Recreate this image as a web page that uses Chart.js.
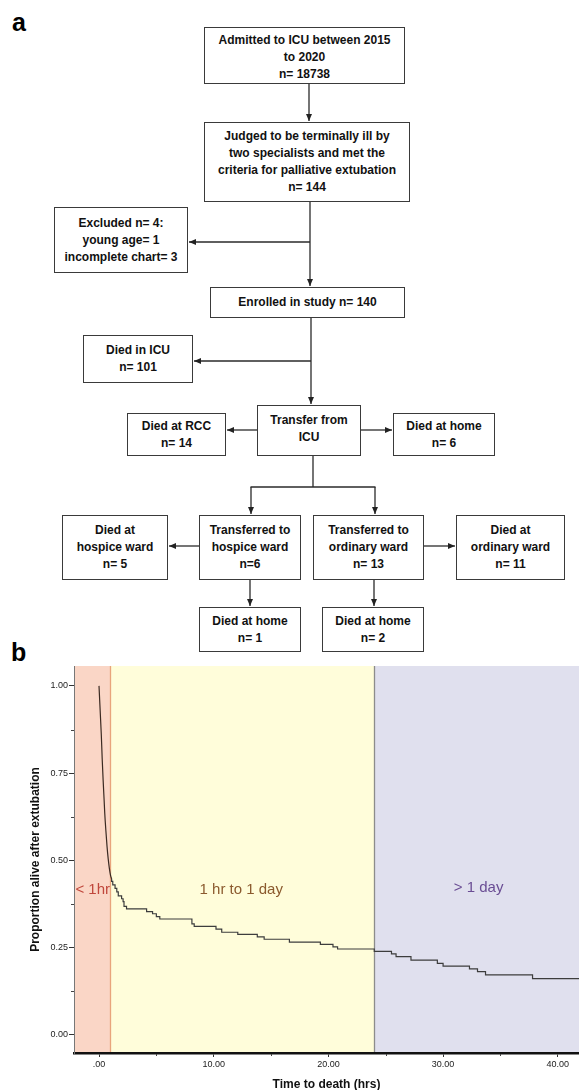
<!DOCTYPE html>
<html>
<head>
<meta charset="utf-8">
<script src="https://cdn.jsdelivr.net/npm/chart.js@4.4.1/dist/chart.umd.min.js"></script>
<style>
  html, body { margin:0; padding:0; background:#fff; }
  #page { position:relative; width:579px; height:1090px; overflow:hidden; background:#fff; }
  .panel { position:absolute; font-family:"Liberation Sans", Arial, sans-serif; font-weight:bold; font-size:25px; line-height:1; }
  .box { position:absolute; box-sizing:border-box; border:1.5px solid #3a3a3a; background:#fff;
         display:flex; align-items:center; justify-content:center; text-align:center;
         font-family:"Liberation Sans", Arial, sans-serif; font-weight:bold;
         font-size:12px; line-height:17px; color:#111; }
  svg { position:absolute; left:0; top:0; }
  #chartWrap { position:absolute; left:0; top:640px; width:579px; height:452px; }
</style>
</head>
<body>
<div id="page">
  <div class="panel" style="left:12px;top:10px;">a</div>
  <div class="panel" style="left:11px;top:640px;">b</div>

  <svg width="579" height="660" viewBox="0 0 579 660">
    <defs>
      <marker id="ah" markerWidth="8" markerHeight="8" refX="7" refY="4" orient="auto" markerUnits="userSpaceOnUse">
        <path d="M0,1 L7,4 L0,7 Z" fill="#222"/>
      </marker>
    </defs>
    <g stroke="#2a2a2a" stroke-width="1.3" fill="none">
      <line x1="309" y1="84" x2="309" y2="121" marker-end="url(#ah)"/>
      <line x1="310" y1="202" x2="310" y2="286" marker-end="url(#ah)"/>
      <line x1="310" y1="242" x2="189" y2="242" marker-end="url(#ah)"/>
      <line x1="311" y1="318" x2="311" y2="404" marker-end="url(#ah)"/>
      <line x1="311" y1="361" x2="194" y2="361" marker-end="url(#ah)"/>
      <line x1="257" y1="430" x2="227" y2="430" marker-end="url(#ah)"/>
      <line x1="361" y1="430" x2="392" y2="430" marker-end="url(#ah)"/>
      <line x1="313" y1="456" x2="313" y2="487"/>
      <line x1="250.5" y1="487" x2="375.5" y2="487"/>
      <line x1="251" y1="487" x2="251" y2="514" marker-end="url(#ah)"/>
      <line x1="375" y1="487" x2="375" y2="514" marker-end="url(#ah)"/>
      <line x1="199" y1="546" x2="169" y2="546" marker-end="url(#ah)"/>
      <line x1="424" y1="546" x2="455" y2="546" marker-end="url(#ah)"/>
      <line x1="250" y1="580" x2="250" y2="606" marker-end="url(#ah)"/>
      <line x1="374" y1="580" x2="374" y2="606" marker-end="url(#ah)"/>
    </g>
  </svg>

  <div class="box" style="left:204px;top:27px;width:201px;height:57px;padding-top:3px;">Admitted to ICU between 2015<br>to 2020<br>n= 18738</div>
  <div class="box" style="left:204px;top:122px;width:206px;height:80px;">Judged to be terminally ill by<br>two specialists and met the<br>criteria for palliative extubation<br>n= 144</div>
  <div class="box" style="left:54px;top:207px;width:134px;height:66px;">Excluded n= 4:<br>young age= 1<br>incomplete chart= 3</div>
  <div class="box" style="left:210px;top:287px;width:195px;height:31px;">Enrolled in study n= 140</div>
  <div class="box" style="left:83px;top:335px;width:110px;height:48px;">Died in ICU<br>n= 101</div>
  <div class="box" style="left:257px;top:405px;width:104px;height:51px;padding-bottom:4px;">Transfer from<br>ICU</div>
  <div class="box" style="left:127px;top:413px;width:99px;height:43px;">Died at RCC<br>n= 14</div>
  <div class="box" style="left:393px;top:413px;width:102px;height:43px;">Died at home<br>n= 6</div>
  <div class="box" style="left:62px;top:515px;width:106px;height:65px;">Died at<br>hospice ward<br>n= 5</div>
  <div class="box" style="left:199px;top:515px;width:102px;height:65px;">Transferred to<br>hospice ward<br>n=6</div>
  <div class="box" style="left:313px;top:515px;width:111px;height:65px;">Transferred to<br>ordinary ward<br>n= 13</div>
  <div class="box" style="left:456px;top:515px;width:109px;height:65px;">Died at<br>ordinary ward<br>n= 11</div>
  <div class="box" style="left:199px;top:607px;width:102px;height:45px;">Died at home<br>n= 1</div>
  <div class="box" style="left:322px;top:607px;width:102px;height:45px;">Died at home<br>n= 2</div>

  <div id="chartWrap"><canvas id="km" width="579" height="452"></canvas></div>
</div>

<script>
// ---------- DATA ----------
// Early phase (< ~1 hr): many deaths, drawn as a continuous curve
const earlyTime = [0, 0.1, 0.2, 0.28, 0.36, 0.45, 0.5, 0.6, 0.7, 0.8, 0.9, 1.0, 1.1];
const earlySurv = [1.0, 0.93, 0.86, 0.79, 0.73, 0.67, 0.636, 0.585, 0.54, 0.505, 0.478, 0.458, 0.447];

// Later phase: Kaplan-Meier steps
const stepTime = [1.1, 1.2, 1.4, 1.55, 1.68, 1.97, 2.1, 2.18, 2.4, 4.15, 4.67, 5.0, 5.3, 8.1, 8.3, 10.2, 10.7,
                  12.1, 13.8, 14.4, 16.6, 19.3, 20.4, 20.8, 24.0, 25.5, 25.9, 27.2, 29.5, 30.0, 32.3, 33.0, 33.7,
                  37.8, 39.3, 41.85];
const stepSurv = [0.447, 0.44, 0.43, 0.42, 0.41, 0.398, 0.39, 0.382, 0.368, 0.361, 0.353, 0.347, 0.339, 0.332, 0.318, 0.311, 0.303,
                  0.294, 0.288, 0.281, 0.274, 0.266, 0.259, 0.252, 0.246, 0.239, 0.232, 0.224, 0.214, 0.205, 0.197, 0.189, 0.181,
                  0.172, 0.161, 0.161];

// Axis ticks
const xTicks = [0, 10, 20, 30, 40];
const xTickLabels = ['.00', '10.00', '20.00', '30.00', '40.00'];
const xMinorTicks = [5, 15, 25, 35];
const yTicks = [0, 0.25, 0.5, 0.75, 1.0];
const yTickLabels = ['0.00', '0.25', '0.50', '0.75', '1.00'];
const yMinorTicks = [0.125, 0.375, 0.625, 0.875];

// Time bands (hours)
const bandEdges = [-2.18, 1, 24, 41.85];
const bandColors = ['#fad6c6', '#fffdda', '#e0e0ee'];
const bandLineColors = ['#e8a47c', '#8c8c8c'];
const bandLabels = ['< 1hr', '1 hr to 1 day', '> 1 day'];
const bandLabelX = [-0.55, 12.4, 33.1];
const bandLabelY = [0.415, 0.415, 0.421];
const bandLabelColors = ['#c0473c', '#8b5a2e', '#6a4d94'];

// ---------- CHART ----------
const xMin = -2.18, xMax = 41.85, yMin = -0.052, yMax = 1.057;

const bandsPlugin = {
  id: 'bands',
  beforeDraw(chart) {
    const {ctx, chartArea: a, scales: {x}} = chart;
    ctx.save();
    for (let i = 0; i < bandColors.length; i++) {
      const x0 = Math.max(a.left, x.getPixelForValue(bandEdges[i]));
      const x1 = Math.min(a.right, x.getPixelForValue(bandEdges[i + 1]));
      ctx.fillStyle = bandColors[i];
      ctx.fillRect(x0, a.top, x1 - x0, a.bottom - a.top);
    }
    for (let i = 1; i < bandEdges.length - 1; i++) {
      const px = Math.round(x.getPixelForValue(bandEdges[i])) + 0.5;
      ctx.strokeStyle = bandLineColors[i - 1];
      ctx.lineWidth = 1.3;
      ctx.beginPath(); ctx.moveTo(px, a.top); ctx.lineTo(px, a.bottom); ctx.stroke();
    }
    ctx.restore();
  },
  afterDraw(chart) {
    const {ctx, chartArea: a, scales: {x, y}} = chart;
    ctx.save();
    // minor ticks
    ctx.strokeStyle = '#444'; ctx.lineWidth = 1;
    xMinorTicks.forEach(v => {
      const px = Math.round(x.getPixelForValue(v)) + 0.5;
      ctx.beginPath(); ctx.moveTo(px, a.bottom + 1); ctx.lineTo(px, a.bottom + 3); ctx.stroke();
    });
    yMinorTicks.forEach(v => {
      const py = Math.round(y.getPixelForValue(v)) + 0.5;
      ctx.beginPath(); ctx.moveTo(a.left - 3, py); ctx.lineTo(a.left, py); ctx.stroke();
    });
    // band labels
    ctx.font = '15px "Liberation Sans", Arial, sans-serif';
    ctx.textAlign = 'center'; ctx.textBaseline = 'middle';
    bandLabels.forEach((t, i) => {
      ctx.fillStyle = bandLabelColors[i];
      ctx.fillText(t, x.getPixelForValue(bandLabelX[i]), y.getPixelForValue(bandLabelY[i]));
    });
    ctx.restore();
  }
};

new Chart(document.getElementById('km'), {
  type: 'line',
  data: {
    datasets: [
      {
        label: 'early',
        data: earlyTime.map((t, i) => ({x: t, y: earlySurv[i]})),
        borderColor: '#3b2a22', borderWidth: 1.2, pointRadius: 0, cubicInterpolationMode: 'monotone', stepped: false, fill: false
      },
      {
        label: 'km',
        data: stepTime.map((t, i) => ({x: t, y: stepSurv[i]})),
        borderColor: '#3d3d3d', borderWidth: 1.2, pointRadius: 0, stepped: 'after', fill: false
      }
    ]
  },
  options: {
    responsive: false,
    animation: false,
    layout: { padding: { top: 26, left: 25, right: 0, bottom: 0 } },
    plugins: { legend: { display: false }, tooltip: { enabled: false } },
    scales: {
      x: {
        type: 'linear', min: xMin, max: xMax,
        afterFit(s) { s.height = 39; },
        afterBuildTicks(s) { s.ticks = xTicks.map(v => ({value: v})); },
        grid: { drawOnChartArea: false, drawTicks: true, tickLength: 4, tickColor: '#333', tickWidth: 1 },
        border: { display: true, color: '#111', width: 2.5 },
        ticks: {
          autoSkip: false, maxRotation: 0, padding: 2, color: '#222',
          font: { family: '"Liberation Sans", Arial, sans-serif', size: 9 },
          callback: (v, i) => xTickLabels[i]
        },
        title: {
          display: true, text: 'Time to death (hrs)', color: '#111',
          font: { family: '"Liberation Sans", Arial, sans-serif', size: 12, weight: 'bold' },
          padding: { top: 0, bottom: 0 }
        }
      },
      y: {
        type: 'linear', min: yMin, max: yMax,
        afterFit(s) { s.width = 49; },
        afterBuildTicks(s) { s.ticks = yTicks.map(v => ({value: v})); },
        grid: { drawOnChartArea: false, drawTicks: true, tickLength: 5, tickColor: '#333', tickWidth: 1 },
        border: { display: true, color: '#777', width: 1 },
        ticks: {
          autoSkip: false, padding: 1, color: '#222',
          font: { family: '"Liberation Sans", Arial, sans-serif', size: 9 },
          callback: (v, i) => yTickLabels[i]
        },
        title: {
          display: true, text: 'Proportion alive after extubation', color: '#111',
          font: { family: '"Liberation Sans", Arial, sans-serif', size: 12, weight: 'bold' },
          padding: { top: 3, bottom: 0 }
        }
      }
    }
  },
  plugins: [bandsPlugin]
});
</script>
</body>
</html>
